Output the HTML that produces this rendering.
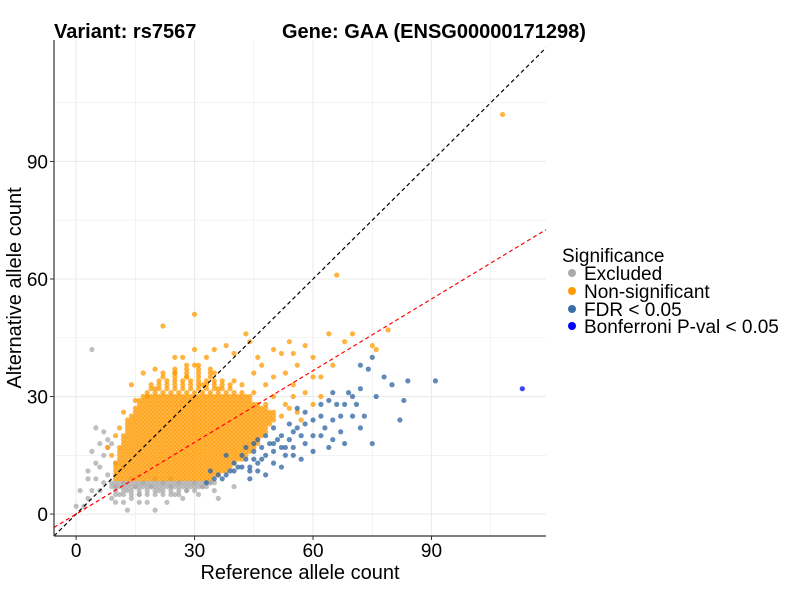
<!DOCTYPE html>
<html><head><meta charset="utf-8"><style>
body{margin:0;background:#fff;}
svg text{font-family:"Liberation Sans",Arial,sans-serif;}
</style></head><body>
<svg id="chart" width="800" height="600" xmlns="http://www.w3.org/2000/svg">
<rect width="800" height="600" fill="#fff"/>
<text x="54" y="38" font-size="20" font-weight="bold">Variant: rs7567</text>
<text x="282" y="38" font-size="20" font-weight="bold">Gene: GAA (ENSG00000171298)</text>
<g id="grid"></g>
<g id="pts"></g>
<g id="lines"></g>
<g id="axes"></g>
<text x="300" y="579" font-size="20" text-anchor="middle">Reference allele count</text>
<text transform="translate(21,288) rotate(-90)" font-size="20" text-anchor="middle">Alternative allele count</text>
<g>
<text x="562" y="262" font-size="19">Significance</text>
<g><circle cx="572" cy="273" r="4" fill="#aaaaaa"/><text x="584" y="280" font-size="19">Excluded</text></g>
<g><circle cx="572" cy="291" r="4" fill="#ff9900"/><text x="584" y="298" font-size="19">Non-significant</text></g>
<g><circle cx="572" cy="309" r="4" fill="#3b6ea8"/><text x="584" y="316" font-size="19">FDR &lt; 0.05</text></g>
<g><circle cx="572" cy="326" r="4" fill="#0000ff"/><text x="584" y="333" font-size="19">Bonferroni P-val &lt; 0.05</text></g>
</g>
</svg>
<script>
const xTicks=[0,30,60,90];
const yTicks=[0,30,60,90];
const orangeRowY=[9,10,11,12,13,14,15,16,17,18,19,20,21,22,23,24,25,26,27,28,29,30,31,32,33,34,35,36,37,38];
const orangeRowXmin=[10,10,10,10,10,11,11,11,11,12,12,12,13,13,13,14,14,15,15,16,16,17,18,18,19,20,20,22,24,26];
const orangeRowXmax=[34,36,38,39,40,42,43,44,45,46,46,47,48,48,49,50,50,50,48,46,44,44,42,40,40,38,36,36,34,32];
const orangeRowStep=[1,1,1,1,1,1,1,1,1,1,1,1,1,1,1,1,1,1,1,1,1,1,2,2,2,2,3,3,3,3];
const orangeX=[22,30,15,14,17,20,25,27,33,35,38,40,43,44,46,47,45,50,52,54,55,56,58,60,53,55,58,60,62,65,66,68,64,70,75,76,79,108,40,35,30,28,32,36,42,48,50,45,30,25,20,18,12,13,10,11,8,9,50,53,55,48,54,56,52,57,60,62];
const orangeY=[48,51,29,33,36,37,40,40,40,42,43,41,46,44,40,38,36,42,41,44,41,38,43,40,36,33,31,35,35,38,61,44,46,46,43,42,47,102,34,36,38,35,33,32,33,33,35,31,42,36,32,30,26,24,20,22,17,15,30,28,30,28,27,26,25,24,28,30];
const blueX=[38,40,42,44,45,46,48,47,50,50,52,52,54,55,56,57,58,60,62,60,63,65,66,68,70,72,74,75,72,69,65,64,62,58,56,54,50,48,45,42,40,36,35,33,34,38,43,46,55,58,60,62,65,67,68,70,72,75,76,80,82,83,84,91,78,73,71,67,64,52,48,44,57,41,43,45,47,49,51,53,39,37,44,46,50,53,55];
const blueY=[10,11,12,12,14,13,15,17,16,18,17,20,19,21,22,20,23,24,25,20,22,24,28,28,30,32,37,40,38,31,31,29,28,26,27,23,22,20,18,15,13,10,9,8,11,15,17,19,15,18,16,20,19,21,18,25,22,18,30,33,24,29,34,34,35,25,28,25,17,12,10,9,14,12,14,16,14,18,19,17,11,9,11,11,13,15,17];
const bonfX=[113];
const bonfY=[32];
const greyRowY=[5,6,7,8];
const greyRowXmin=[10,9,9,8];
const greyRowXmax=[26,30,33,35];
const greyRowStep=[2,2,1,1];
const greyX=[4,2,3,4,5,6,5,7,8,7,8,9,8,6,10,12,11,13,14,15,16,18,20,17,19,21,22,24,25,26,28,30,32,34,35,24,20,14,12,10,9,16,0,1,3,4,5,7,6,3,12,10,36,40,23,27,31,13];
const greyY=[42,2,4,6,9,12,13,8,10,15,17,18,19,6,3,3,5,6,4,7,5,3,1,8,7,6,8,7,5,8,6,8,7,8,6,9,9,9,8,7,4,3,2,6,11,16,22,21,18,9,12,13,4,7,3,4,5,1];

const NS='http://www.w3.org/2000/svg';
const X0=54,X1=546,Y0=40,Y1=536;
const xMin=-5.6,xMax=119,yMin=-5.6,yMax=121;
function sx(v){return X0+(v-xMin)/(xMax-xMin)*(X1-X0);}
function sy(v){return Y1-(v-yMin)/(yMax-yMin)*(Y1-Y0);}
function mk(tag,attrs,parent){const e=document.createElementNS(NS,tag);for(const k in attrs)e.setAttribute(k,attrs[k]);parent.appendChild(e);return e;}
const grid=document.getElementById('grid');
for(let v=0;v<=105;v+=15){
  const gx=mk('line',{x1:sx(v),x2:sx(v),y1:Y0,y2:Y1,stroke:'#ebebeb','stroke-width':v%30===0?1.1:0.6},grid);
  
  
  const gy=mk('line',{x1:X0,x2:X1,y1:sy(v),y2:sy(v),stroke:'#ebebeb','stroke-width':v%30===0?1.1:0.6},grid);
  
  
}
const pts=document.getElementById('pts');
function dot(x,y,fill,name){
  const c=mk('circle',{cx:sx(x),cy:sy(y),r:2.6,fill:fill,'fill-opacity':0.75},pts);
  
  
}
for(let i=0;i<greyRowY.length;i++)for(let x=greyRowXmin[i]+(i%2);x<=greyRowXmax[i];x+=greyRowStep[i])dot(x,greyRowY[i],'#aaaaaa','point-excluded');
for(let i=0;i<greyX.length;i++)dot(greyX[i],greyY[i],'#aaaaaa','point-excluded');
for(let i=0;i<orangeRowY.length;i++)for(let x=orangeRowXmin[i]+(i%orangeRowStep[i]);x<=orangeRowXmax[i];x+=orangeRowStep[i])dot(x,orangeRowY[i],'#ff9900','point-non-significant');
for(let i=0;i<orangeX.length;i++)dot(orangeX[i],orangeY[i],'#ff9900','point-non-significant');
for(let i=0;i<blueX.length;i++)dot(blueX[i],blueY[i],'#2e63a2','point-fdr');
for(let i=0;i<bonfX.length;i++)dot(bonfX[i],bonfY[i],'#0000ff','point-bonferroni');
const lines=document.getElementById('lines');
const l1=mk('line',{x1:sx(xMin),y1:sy(xMin),x2:sx(xMax),y2:sy(xMax),stroke:'#000','stroke-width':1.2,'stroke-dasharray':'4,3'},lines);


const slope=0.61;
const l2=mk('line',{x1:sx(xMin),y1:sy(slope*xMin),x2:sx(xMax),y2:sy(slope*xMax),stroke:'#ff0000','stroke-width':1.2,'stroke-dasharray':'4,3'},lines);


const axes=document.getElementById('axes');
mk('line',{x1:X0,x2:X0,y1:Y0,y2:Y1,stroke:'#333','stroke-width':1.2},axes);
mk('line',{x1:X0,x2:X1,y1:Y1,y2:Y1,stroke:'#333','stroke-width':1.2},axes);
xTicks.forEach(v=>{
  mk('line',{x1:sx(v),x2:sx(v),y1:Y1,y2:Y1+4,stroke:'#333'},axes);
  const t=mk('text',{x:sx(v),y:Y1+21,'font-size':19,'text-anchor':'middle',fill:'#000'},axes);
  t.textContent=v;
  
  
});
yTicks.forEach(v=>{
  mk('line',{x1:X0-4,x2:X0,y1:sy(v),y2:sy(v),stroke:'#333'},axes);
  const t=mk('text',{x:X0-6,y:sy(v)+7,'font-size':19,'text-anchor':'end',fill:'#000'},axes);
  t.textContent=v;
  
  
});
</script>
</body></html>
